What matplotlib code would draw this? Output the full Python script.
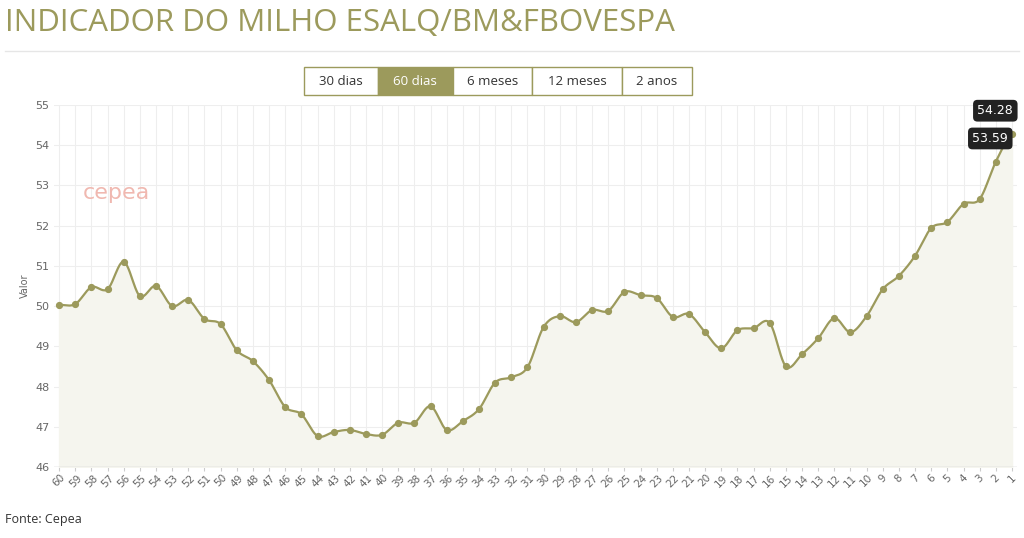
import matplotlib
matplotlib.use("Agg")
import matplotlib.pyplot as plt
from matplotlib.patches import Rectangle
import numpy as np

days = list(range(60, 0, -1))
values = [50.03, 50.05, 50.47, 50.42, 51.10, 50.25, 50.50, 50.00, 50.15, 49.68,
          49.55, 48.90, 48.63, 48.16, 47.49, 47.31, 46.77, 46.87, 46.92, 46.82,
          46.80, 47.10, 47.10, 47.51, 46.92, 47.14, 47.44, 48.10, 48.23, 48.48,
          49.48, 49.75, 49.60, 49.90, 49.88, 50.35, 50.27, 50.20, 49.73, 49.80,
          49.35, 48.95, 49.40, 49.45, 49.58, 48.50, 48.80, 49.20, 49.70, 49.35,
          49.75, 50.42, 50.75, 51.25, 51.94, 52.09, 52.54, 52.66, 53.59, 54.28]
buttons = ["30 dias", "60 dias", "6 meses", "12 meses", "2 anos"]
olive = "#9c9a5c"

fig = plt.figure(figsize=(10.24, 5.38), dpi=100)
fig.text(0.005, 0.958, "INDICADOR DO MILHO ESALQ/BM&FBOVESPA", fontsize=22.5, color=olive,
         va="center", family="Open Sans")
fig.add_artist(plt.Line2D([0.005, 0.995], [0.905, 0.905], color="#e6e6e6", lw=1))
fig.text(0.005, 0.035, "Fonte: Cepea", fontsize=9, color="#333333", va="center", family="Open Sans")

bx = [0.297, 0.369, 0.442, 0.520, 0.607, 0.676]
for i, b in enumerate(buttons):
    sel = i == 1
    fig.add_artist(Rectangle((bx[i], 0.823), bx[i+1]-bx[i], 0.053, transform=fig.transFigure,
                             facecolor=olive if sel else "white", edgecolor=olive, lw=1))
    fig.text((bx[i]+bx[i+1])/2, 0.849, b, ha="center", va="center", fontsize=9.5,
             color="white" if sel else "#333333", family="Open Sans")

ax = fig.add_axes([0.053, 0.132, 0.94, 0.673])
x = np.arange(len(values))
xs = np.linspace(0, len(values)-1, 1200)
def catmull(yp, xs):
    out = []
    n = len(yp)
    for t in xs:
        i = min(int(t), n-2)
        u = t - i
        p0 = yp[max(i-1, 0)]; p1 = yp[i]; p2 = yp[i+1]; p3 = yp[min(i+2, n-1)]
        out.append(0.5*((2*p1) + (-p0+p2)*u + (2*p0-5*p1+4*p2-p3)*u**2 + (-p0+3*p1-3*p2+p3)*u**3))
    return np.array(out)
ys = catmull(values, xs)
ax.fill_between(xs, ys, 46, color="#f5f5ee")
ax.plot(xs, ys, color=olive, lw=1.6)
ax.plot(x, values, "o", color=olive, ms=4.2)
ax.set_xlim(-0.3, len(values)-0.7)
ax.set_ylim(46, 55)
ax.set_yticks(range(46, 56))
ax.set_xticks(x)
ax.set_xticklabels([str(d) for d in days], rotation=45, fontsize=7.5, color="#666666")
ax.tick_params(axis="y", labelsize=8, colors="#666666", length=0)
ax.tick_params(axis="x", length=3, color="#cccccc", pad=1)
ax.set_ylabel("Valor", fontsize=7, color="#666666")
ax.grid(True, color="#eeeeee", lw=0.8)
ax.set_axisbelow(True)
for s in ax.spines.values():
    s.set_visible(False)
ax.axhline(46, color="#cccccc", lw=1)

offs = {len(values)-2: (-4, 12), len(values)-1: (-12, 12)}
for idx, off in offs.items():
    ax.annotate(f"{values[idx]:.2f}", (x[idx], values[idx]), xytext=off, textcoords="offset points",
                ha="center", va="bottom", fontsize=9, color="white",
                bbox=dict(boxstyle="round,pad=0.35", fc="#222222", ec="none"))

ax.text(0.065, 0.74, "cepea", transform=ax.transAxes, fontsize=16, color="#f0b8b0", ha="center")
fig.savefig("out.png", dpi=100)
